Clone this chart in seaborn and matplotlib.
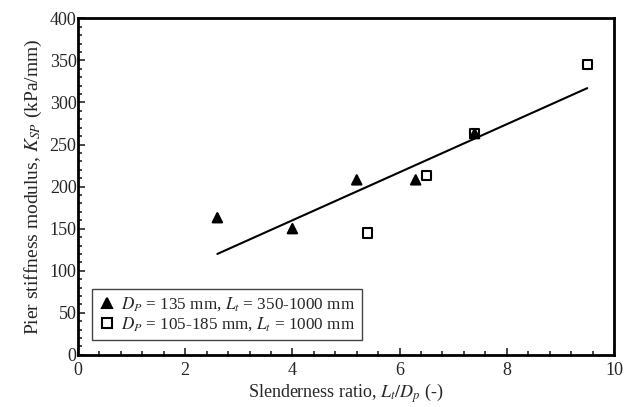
import numpy as np
import pandas as pd
import seaborn as sns
import matplotlib.pyplot as plt
from matplotlib.ticker import MultipleLocator

# Données
sq_x = [5.4, 6.5, 7.4, 9.5]
sq_y = [145, 213, 263, 345]
tri_x = [2.6, 4.0, 5.2, 6.3, 7.4]
tri_y = [163, 150, 208, 208, 263]
fit_x = [2.6, 9.5]
fit_y = [120, 317]

lab_tri = r'$D_P$ = 135 mm, $L_t$ = 350-1000 mm'
lab_sq = r'$D_P$ = 105-185 mm, $L_t$ = 1000 mm'

sns.set_style('ticks')
plt.rcParams['font.family'] = ['Liberation Serif', 'DejaVu Serif']
plt.rcParams['mathtext.fontset'] = 'stix'

# carrés d'abord pour que le triangle à 7.4 passe au-dessus
df = pd.DataFrame({
    'x': sq_x + tri_x,
    'y': sq_y + tri_y,
    'serie': [lab_sq] * len(sq_x) + [lab_tri] * len(tri_x),
})

fig, ax = plt.subplots(figsize=(6.24, 4.07), dpi=100)
fig.subplots_adjust(left=0.125, right=0.984, top=0.955, bottom=0.128)

sns.lineplot(x=fit_x, y=fit_y, ax=ax, color='black', lw=1.5, legend=False)
sns.scatterplot(data=df, x='x', y='y', hue='serie', style='serie',
                hue_order=[lab_tri, lab_sq], style_order=[lab_tri, lab_sq],
                markers={lab_tri: '^', lab_sq: 's'},
                palette={lab_tri: 'black', lab_sq: 'white'},
                edgecolor='black', linewidth=1.5, s=45, ax=ax, zorder=3)

ax.set_xlim(0, 10)
ax.set_ylim(0, 400)
ax.xaxis.set_major_locator(MultipleLocator(2))
ax.xaxis.set_minor_locator(MultipleLocator(0.4))
ax.yaxis.set_major_locator(MultipleLocator(50))
ax.yaxis.set_minor_locator(MultipleLocator(10))
ax.tick_params(which='both', direction='in', top=False, right=False,
               width=1.2, labelsize=13)
ax.tick_params(axis='x', pad=5)
ax.tick_params(axis='y', pad=1)
ax.tick_params(which='major', length=5)
ax.tick_params(which='minor', length=3)
for s in ax.spines.values():
    s.set_linewidth(2)
    s.set_color('black')

ax.set_xlabel(r'Slenderness ratio, $L_t/D_p$ (-)', fontsize=13, labelpad=2)
ax.set_ylabel(r'Pier stiffness modulus, $K_{SP}$ (kPa/mm)', fontsize=14, labelpad=4)

leg = ax.legend(loc='lower left', bbox_to_anchor=(0.026, 0.045), fontsize=12.3,
                fancybox=False, framealpha=1, edgecolor='#444444',
                handletextpad=0.3, borderpad=0.4, labelspacing=0.1,
                handlelength=1.0, borderaxespad=0)
leg.get_frame().set_linewidth(1.0)

plt.savefig('out.png', dpi=100)
